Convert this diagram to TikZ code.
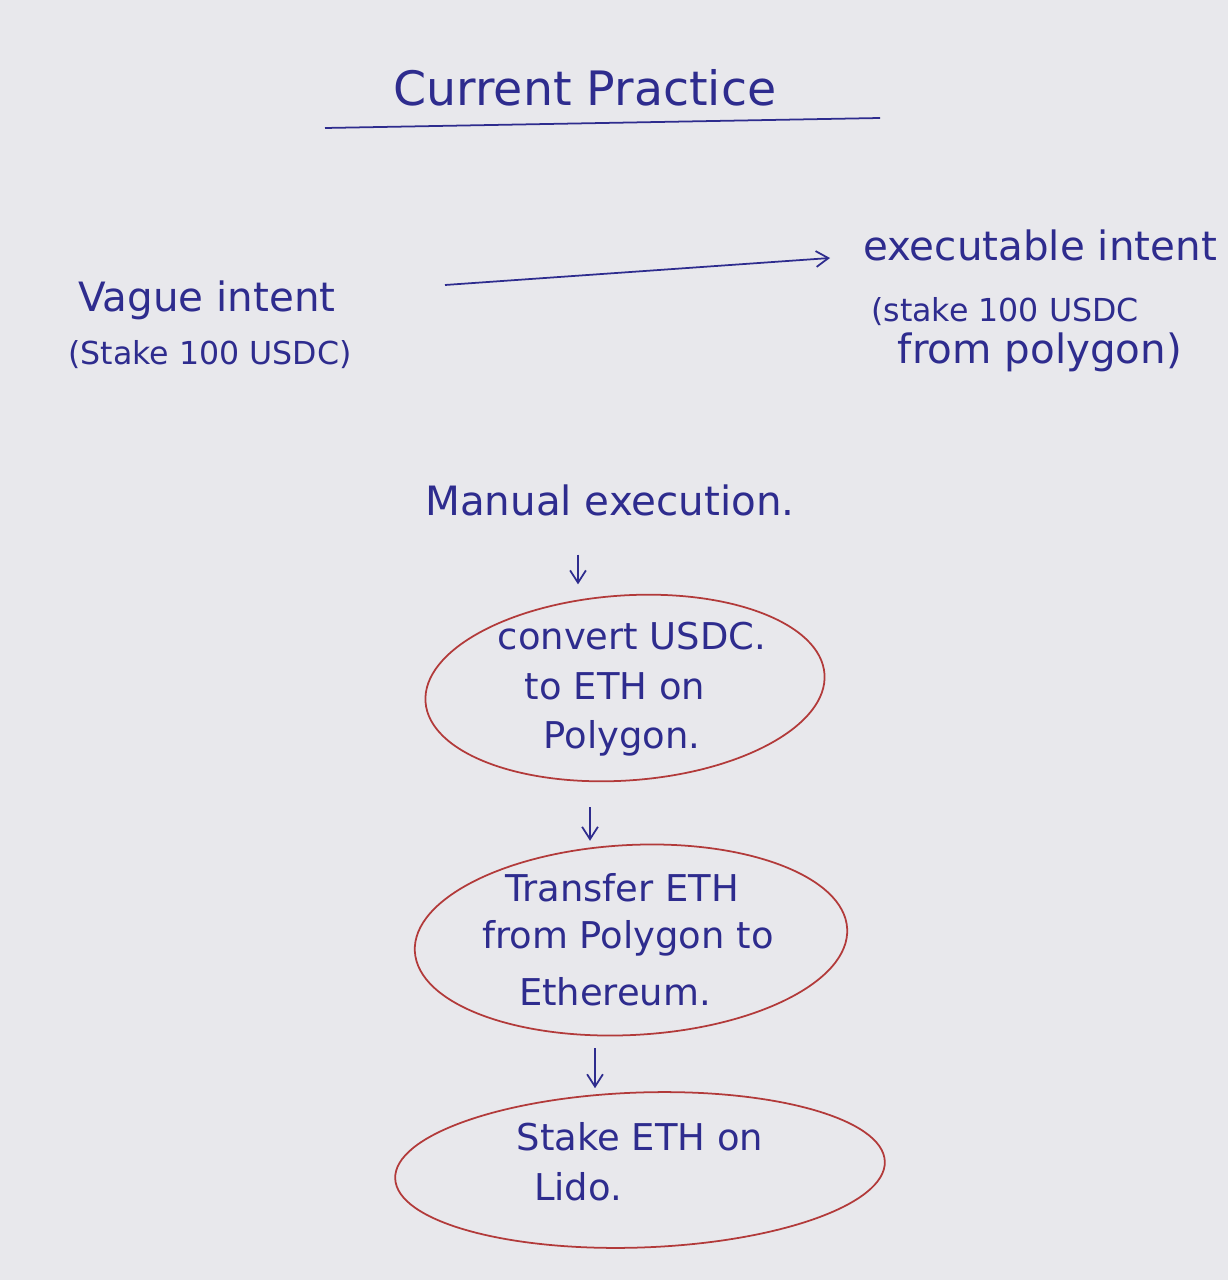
\documentclass[tikz,border=0pt]{standalone}
\usepackage{fontspec}
\setmainfont{DejaVu Sans}
\usetikzlibrary{shapes.geometric,arrows.meta}
\definecolor{ink}{HTML}{2E2C8E}
\definecolor{redink}{HTML}{B23A3A}
\definecolor{paper}{HTML}{E8E8EC}
\tikzset{
  hand/.style={text=ink, font=\fontsize{23}{34}\selectfont, inner sep=0pt},
  small/.style={hand, font=\fontsize{18}{26}\selectfont},
  inner/.style={hand, font=\fontsize{21}{30}\selectfont},
  blob/.style={ellipse, draw=redink, line width=1pt, inner sep=0pt},
  flow/.style={draw=ink, line width=1pt, -{Straight Barb[length=7pt,width=9pt]}},
}
\begin{document}
\begin{tikzpicture}[x=0.02cm,y=-0.02cm]
\fill[paper] (0,0) rectangle (1228,1280);
\useasboundingbox (0,0) rectangle (1228,1280);

\node[hand, font=\fontsize{27}{34}\selectfont] (title) at (585,88) {Current Practice};
\coordinate (ulA) at (325,128);
\coordinate (ulB) at (880,118);
\draw[ink, line width=1pt] (ulA) -- (ulB);

\node[hand, anchor=west] (vague1) at (78,300) {Vague intent};
\node[small, anchor=west] (vague2) at (68,355) {(Stake 100 USDC)};
\node[hand] (exec1) at (1040,245) {executable intent};
\node[small] (exec2) at (1005,312) {(stake 100 USDC};
\node[hand] (exec3) at (1040,352) {from polygon)};
\coordinate (aS) at (445,285);
\coordinate (aE) at (830,258);
\draw[flow] (aS) -- (aE);

\node[hand] (manual) at (610,500) {Manual execution.};

\node[blob, minimum width=8cm, minimum height=3.7cm, rotate=4] (e1) at (625,688) {};
\node[inner] (e1a) at (632,636) {convert USDC.};
\node[inner] (e1b) at (615,686) {to ETH on};
\node[inner] (e1c) at (622,738) {Polygon.};

\node[blob, minimum width=8.66cm, minimum height=3.8cm, rotate=3] (e2) at (631,940) {};
\node[inner] (e2a) at (622,888) {Transfer ETH};
\node[inner] (e2b) at (628,938) {from Polygon to};
\node[inner] (e2c) at (615,992) {Ethereum.};

\node[blob, minimum width=9.8cm, minimum height=3.1cm, rotate=2] (e3) at (640,1170) {};
\node[inner] (e3a) at (640,1137) {Stake ETH on};
\node[inner] (e3b) at (578,1187) {Lido.};

\coordinate (x1) at (578,0);
\coordinate (x2) at (590,0);
\coordinate (x3) at (595,0);
\draw[flow, shorten <=22pt, shorten >=6pt] (manual.south -| x1) -- (e1.north -| x1);
\draw[flow, shorten <=15pt, shorten >=2pt] (e1.south -| x2) -- (e2.north -| x2);
\draw[flow, shorten <=7pt, shorten >=2pt] (e2.south -| x3) -- (e3.north -| x3);
\end{tikzpicture}
\end{document}
